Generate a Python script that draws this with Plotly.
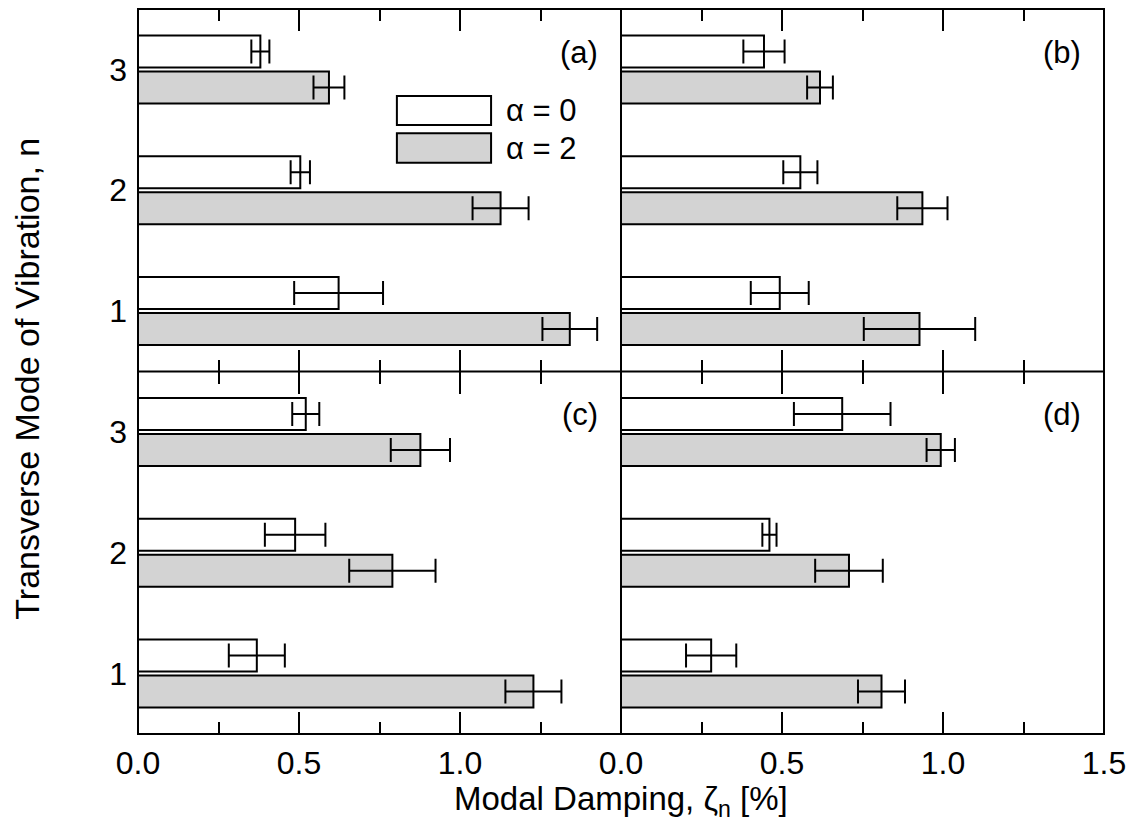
import plotly.graph_objects as go
from plotly.subplots import make_subplots

modes = [1, 2, 3]
mode_labels = ["1", "2", "3"]

# panel (a)
a_alpha0 = [0.623, 0.504, 0.380]
a_alpha0_err = [0.138, 0.030, 0.028]
a_alpha2 = [1.341, 1.126, 0.593]
a_alpha2_err = [0.085, 0.087, 0.048]
# panel (b)
b_alpha0 = [0.493, 0.557, 0.444]
b_alpha0_err = [0.090, 0.053, 0.064]
b_alpha2 = [0.927, 0.936, 0.618]
b_alpha2_err = [0.173, 0.078, 0.040]
# panel (c)
c_alpha0 = [0.369, 0.488, 0.521]
c_alpha0_err = [0.087, 0.094, 0.042]
c_alpha2 = [1.228, 0.790, 0.877]
c_alpha2_err = [0.087, 0.134, 0.092]
# panel (d)
d_alpha0 = [0.280, 0.461, 0.687]
d_alpha0_err = [0.078, 0.022, 0.150]
d_alpha2 = [0.809, 0.708, 0.993]
d_alpha2_err = [0.073, 0.105, 0.044]

left_tickvals = [0.0, 0.5, 1.0]
left_ticktext = ["0.0", "0.5", "1.0"]
right_tickvals = [0.0, 0.5, 1.0, 1.5]
right_ticktext = ["0.0", "0.5", "1.0", "1.5"]
x_minor = [0.25, 0.75, 1.25]
panel_names = ["(a)", "(b)", "(c)", "(d)"]
series_names = ["\u03b1 = 0", "\u03b1 = 2"]

FONT = "Liberation Sans, Arial, sans-serif"
GRAY = "#d3d3d3"

panels = [
    (1, 1, a_alpha0, a_alpha0_err, a_alpha2, a_alpha2_err),
    (1, 2, b_alpha0, b_alpha0_err, b_alpha2, b_alpha2_err),
    (2, 1, c_alpha0, c_alpha0_err, c_alpha2, c_alpha2_err),
    (2, 2, d_alpha0, d_alpha0_err, d_alpha2, d_alpha2_err),
]

fig = make_subplots(rows=2, cols=2, horizontal_spacing=0, vertical_spacing=0)

for r, c, v0, e0, v2, e2 in panels:
    err_style = dict(type="data", visible=True, color="black", thickness=2, width=12)
    fig.add_trace(go.Bar(
        y=modes, x=v2, orientation="h", name=series_names[1],
        marker=dict(color=GRAY, line=dict(color="black", width=2)),
        error_x=dict(array=e2, **err_style), showlegend=False,
    ), row=r, col=c)
    fig.add_trace(go.Bar(
        y=modes, x=v0, orientation="h", name=series_names[0],
        marker=dict(color="white", line=dict(color="black", width=2)),
        error_x=dict(array=e0, **err_style), showlegend=False,
    ), row=r, col=c)

for r in (1, 2):
    for c in (1, 2):
        fig.update_xaxes(
            range=[0, 1.5], tickmode="array",
            tickvals=left_tickvals if c == 1 else right_tickvals,
            ticktext=left_ticktext if c == 1 else right_ticktext,
            showticklabels=(r == 2),
            ticks="inside", ticklen=22, tickwidth=2, tickcolor="black",
            minor=dict(tickmode="array", tickvals=x_minor, ticks="inside",
                       ticklen=12, tickwidth=2, tickcolor="black", showgrid=False),
            showline=False, mirror="ticks",
            showgrid=False, zeroline=False,
            tickfont=dict(family=FONT, size=32, color="black"),
            ticklabelstandoff=7,
            row=r, col=c)
        fig.update_yaxes(
            range=[0.5, 3.5], tickmode="array", tickvals=modes, ticktext=mode_labels,
            showticklabels=(c == 1), ticks="",
            showline=False, mirror=False,
            showgrid=False, zeroline=False,
            tickfont=dict(family=FONT, size=32, color="black"),
            ticklabelstandoff=10,
            row=r, col=c)

# frame: outer box plus the shared middle lines
frame = dict(xref="paper", yref="paper", line=dict(color="black", width=2), layer="above")
fig.add_shape(type="rect", x0=0, x1=1, y0=0, y1=1, **frame)
fig.add_shape(type="line", x0=0.5, x1=0.5, y0=0, y1=1, **frame)
fig.add_shape(type="line", x0=0, x1=1, y0=0.5, y1=0.5, **frame)

# panel labels
axis_ids = [("x", "y"), ("x2", "y2"), ("x3", "y3"), ("x4", "y4")]
for (xa, ya), lab in zip(axis_ids, panel_names):
    fig.add_annotation(text=lab, xref=f"{xa} domain", yref=f"{ya} domain",
                       x=0.957, y=0.881, xanchor="right", yanchor="middle",
                       showarrow=False, font=dict(family=FONT, size=31, color="black"))

# legend drawn inside panel (a)
legend_rows = [(0.760, 0.680, "white", series_names[0]), (0.657, 0.576, GRAY, series_names[1])]
for y_top, y_bot, fill, label in legend_rows:
    fig.add_shape(type="rect", xref="x domain", yref="y domain",
                  x0=0.536, x1=0.731, y0=y_bot, y1=y_top,
                  fillcolor=fill, line=dict(color="black", width=2))
    fig.add_annotation(text=label, xref="x domain", yref="y domain",
                       x=0.758, y=(y_top + y_bot) / 2, xanchor="left", yanchor="middle",
                       showarrow=False, font=dict(family=FONT, size=31, color="black"))

# axis titles
fig.add_annotation(text="Modal Damping, \u03b6<sub>n</sub> [%]", xref="paper", yref="paper",
                   x=0.5, y=-0.093, xanchor="center", yanchor="middle", showarrow=False,
                   font=dict(family=FONT, size=33, color="black"))
fig.add_annotation(text="Transverse Mode of Vibration, n", xref="paper", yref="paper",
                   x=-0.115, y=0.49, xanchor="center", yanchor="middle", textangle=-90,
                   showarrow=False, font=dict(family=FONT, size=34, color="black"))

fig.update_layout(
    width=1135, height=827,
    margin=dict(l=138, r=29, t=9, b=93),
    barmode="group", bargap=0.404, bargroupgap=0.111,
    plot_bgcolor="white", paper_bgcolor="white",
    showlegend=False,
    font=dict(family=FONT, color="black"),
)

fig.write_html("out.html")
